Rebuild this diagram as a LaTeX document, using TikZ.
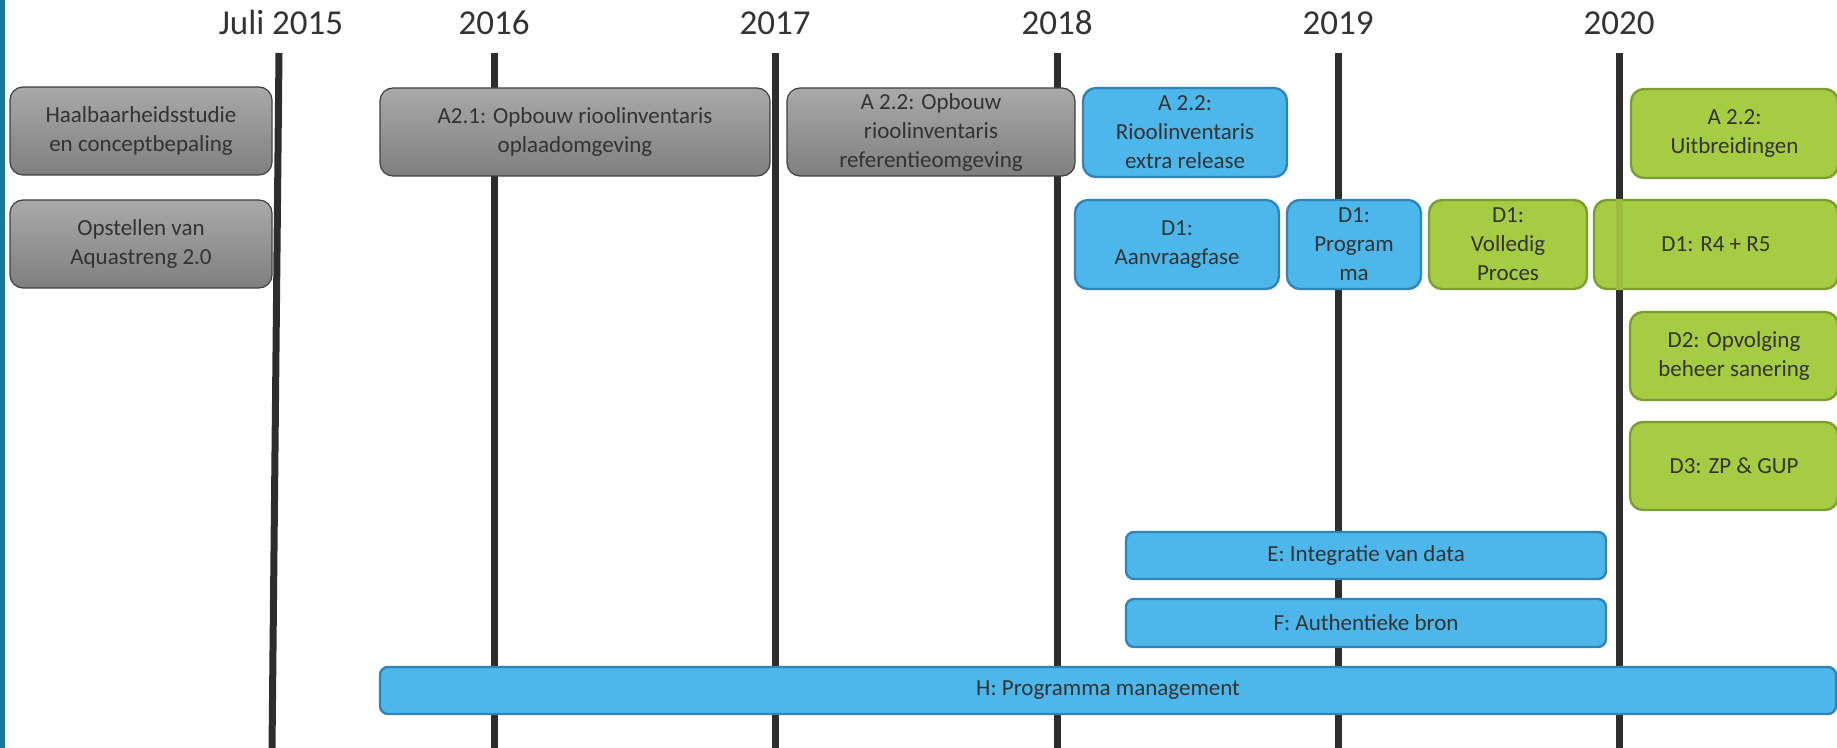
\documentclass[tikz,border=0pt]{standalone}
\usepackage{fontspec}
\setmainfont{Carlito}
\usepackage{xcolor}
\definecolor{ink}{HTML}{333333}
\definecolor{axis}{HTML}{2D2D2D}
\definecolor{edge}{HTML}{1B7898}
\definecolor{greytop}{HTML}{A9A9A9}
\definecolor{greybot}{HTML}{7F7F7F}
\definecolor{greyline}{HTML}{404040}
\definecolor{bluefill}{HTML}{4DB7EC}
\definecolor{blueline}{HTML}{3184B6}
\definecolor{greenfill}{HTML}{A6CC43}
\definecolor{greenline}{HTML}{7B9E33}

\begin{document}
\begin{tikzpicture}[x=0.5pt, y=-0.5pt,
    year/.style = {anchor=base, text=ink, font=\fontsize{17.5}{20}\selectfont},
    yearline/.style = {axis, line width=3.5pt},
    dim/.style 2 args = {minimum width=#1*0.5pt, minimum height=#2*0.5pt},
    task/.style = {rounded corners=6.5pt, inner sep=0pt, align=center, text=ink, font=\fontsize{11.5}{14.5}\selectfont},
    past/.style = {task, draw=greyline, line width=0.6pt, top color=greytop, bottom color=greybot},
    now/.style = {task, draw=blueline, line width=1.2pt, fill=bluefill},
    later/.style = {task, draw=greenline, line width=1.2pt, fill=greenfill},
    bar/.style = {rounded corners=4pt}]
    \useasboundingbox (0,0) rectangle (1837,748);
    \clip (0,0) rectangle (1837,748);
    \fill[edge] (0,0) rectangle (5,748);

    \node[year] (y2015) at (281,35) {Juli 2015};
    \node[year] (y2016) at (494,35) {2016};
    \node[year] (y2017) at (775,35) {2017};
    \node[year] (y2018) at (1057,35) {2018};
    \node[year] (y2019) at (1338,35) {2019};
    \node[year] (y2020) at (1619,35) {2020};

    \coordinate (t2015) at (279,53);  \coordinate (b2015) at (272,750);
    \coordinate (t2016) at (494,53);  \coordinate (b2016) at (494,750);
    \coordinate (t2017) at (775,53);  \coordinate (b2017) at (775,750);
    \coordinate (t2018) at (1057,53); \coordinate (b2018) at (1057,750);
    \coordinate (t2019) at (1338,53); \coordinate (b2019) at (1338,750);
    \coordinate (t2020) at (1619,53); \coordinate (b2020) at (1619,750);

    \draw[yearline] (t2015) -- (b2015);
    \draw[yearline] (t2016) -- (b2016);
    \draw[yearline] (t2017) -- (b2017);
    \draw[yearline] (t2018) -- (b2018);
    \draw[yearline] (t2019) -- (b2019);
    \draw[yearline] (t2020) -- (b2020);

    \node[past, dim={262}{88}] (haal) at (141,131) {Haalbaarheidsstudie\\en conceptbepaling};
    \node[past, dim={262}{88}] (aqua) at (141,244) {Opstellen van\\Aquastreng 2.0};
    \node[past, dim={390}{88}] (a21) at (575,132) {A2.1: Opbouw rioolinventaris\\oplaadomgeving};
    \node[past, dim={288}{88}] (a22ref) at (931,132) {A 2.2: Opbouw\\rioolinventaris\\referentieomgeving};

    \node[now, dim={204}{89}] (a22rel) at (1185,132.5) {A 2.2:\\Rioolinventaris\\extra release};
    \node[now, dim={204}{89}] (d1aan) at (1177,244.5) {D1:\\Aanvraagfase};
    \node[now, dim={134}{89}] (d1prog) at (1354,244.5) {D1:\\Program\\ma};

    \node[later, dim={158}{89}] (d1vol) at (1508,244.5) {D1:\\Volledig\\Proces};
    \node[later, dim={244}{89}] (d1r45) at (1716,244.5) {D1: R4 + R5};
    % 2020 line shows faintly through this box
    \fill[greenfill!90!axis] (1615.5,199) rectangle (1622.5,290);
    \node[later, dim={207}{89}] (a22uit) at (1734.5,133.5) {A 2.2:\\Uitbreidingen};
    \node[later, dim={208}{88}] (d2) at (1734,356) {D2: Opvolging\\beheer sanering};
    \node[later, dim={208}{88}] (d3) at (1734,466) {D3: ZP \& GUP};

    \node[now, bar, dim={480}{47}] (e) at (1366,555.5) {E: Integratie van data};
    \node[now, bar, dim={480}{48}] (f) at (1366,623) {F: Authentieke bron};
    \node[now, bar, dim={1456}{47}] (h) at (1108,690.5) {H: Programma management};
\end{tikzpicture}
\end{document}
